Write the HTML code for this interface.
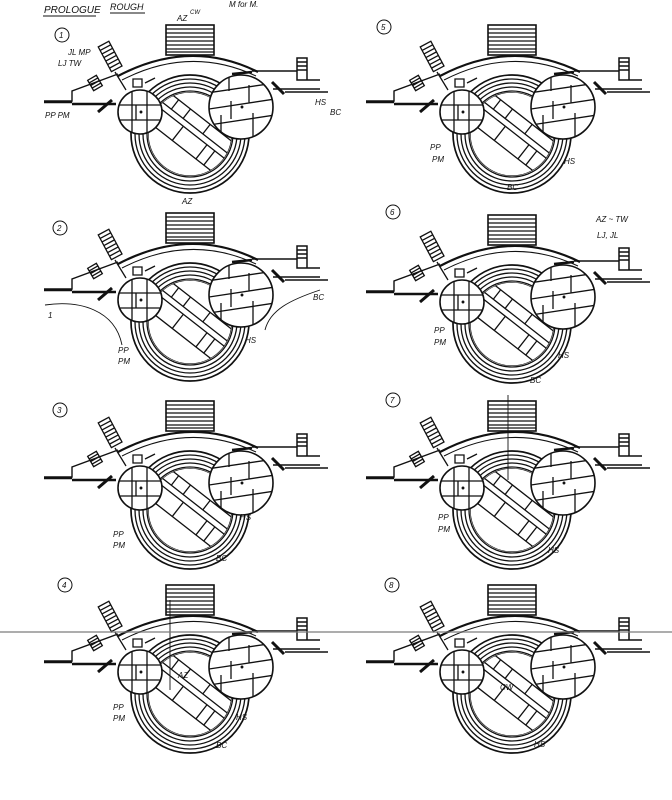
<!DOCTYPE html>
<html><head><style>
html,body{margin:0;padding:0;background:#fff;}
svg{display:block;}
text{font-family:"Liberation Sans",sans-serif;font-style:italic;fill:#111;}
</style></head><body>
<svg width="672" height="800" viewBox="0 0 672 800" xmlns="http://www.w3.org/2000/svg">
<defs>
<clipPath id="inner"><circle cx="190" cy="134" r="42"/></clipPath>
<clipPath id="lc"><circle cx="140" cy="112" r="22"/></clipPath>
<clipPath id="rc"><circle cx="241" cy="107" r="32"/></clipPath>
<g id="panel" stroke="#111" fill="none" stroke-width="1.3">
  <rect x="166" y="25" width="48" height="30" fill="#fff" stroke-width="1.6"/>
  <path d="M166,29H214M166,33H214M166,37H214M166,41H214M166,45H214M166,49H214M166,52H214"/>
  <path d="M118,76 Q190,38 258,72" stroke-width="2.2"/>
  <path d="M122,80 Q190,45 256,76" stroke-width="1"/>
  <g transform="rotate(-28 112 60)">
    <rect x="106" y="42" width="12" height="28" fill="#fff"/>
    <path d="M106,46H118M106,50H118M106,54H118M106,58H118M106,62H118M106,66H118"/>
  </g>
  <path d="M115,72 L126,90"/>
  <g transform="rotate(-30 95 83)">
    <rect x="90" y="77" width="10" height="12" fill="#fff"/>
    <path d="M90,80H100M90,83H100M90,86H100"/>
  </g>
  <path d="M44,101H72V91L118,74" stroke-width="1.4"/>
  <path d="M44,102H72M72,104H116" stroke-width="2.4"/>
  <path d="M98,112L112,100" stroke-width="3"/>
  <path d="M133,79h9v8h-9z M145,83 l10,-5" />
  <path d="M252,71H297M297,58h10v22h-10zM297,62h10M297,66h10M297,70h10M307,80h13M285,92H328M273,89H320" stroke-width="1.5"/>
  <path d="M272,82l12,12" stroke-width="3"/>
  <path d="M232,74l20,-2" stroke-width="2.5"/>
  <circle cx="190" cy="134" r="59" fill="#fff" stroke-width="1.7"/>
  <circle cx="190" cy="134" r="55"/>
  <circle cx="190" cy="134" r="51"/>
  <circle cx="190" cy="134" r="47"/>
  <circle cx="190" cy="134" r="43"/>
  <g clip-path="url(#inner)">
    <circle cx="190" cy="134" r="42" fill="#fff"/>
    <g transform="rotate(38 190 134)">
      <rect x="140" y="114" width="100" height="36"/>
      <path d="M140,126H240M140,132H240M160,114V126M180,132V150M200,114V126M220,132V150M175,114V126M210,132V150"/>
    </g>
  </g>
  <circle cx="140" cy="112" r="22" fill="#fff" stroke-width="1.6"/>
  <g clip-path="url(#lc)">
    <path d="M132,90V134M147,90V134M118,105H162M118,120H162M136,105v15"/>
  </g>
  <circle cx="141" cy="112" r="0.8" fill="#111"/>
  <circle cx="241" cy="107" r="32" fill="#fff" stroke-width="1.6"/>
  <g clip-path="url(#rc)">
    <path d="M207,93L275,83M209,109L275,99M209,125L275,115M229,75V91M249,85V103M231,101V119M253,113V139M221,115V133"/>
  </g>
  <circle cx="242" cy="107" r="0.8" fill="#111"/>
</g>
</defs>

<text x="44" y="13" font-size="10">PROLOGUE</text>
<path d="M43,16H96" stroke="#111"/>
<text x="110" y="10" font-size="9">ROUGH</text>
<path d="M110,13H145" stroke="#111"/>
<text x="177" y="21" font-size="8">AZ</text><text x="190" y="14" font-size="6">CW</text>
<text x="229" y="7" font-size="8">M for M.</text>

<use href="#panel" x="0" y="0"/>
<use href="#panel" x="322" y="0"/>
<use href="#panel" x="0" y="188"/>
<use href="#panel" x="322" y="190"/>
<use href="#panel" x="0" y="376"/>
<use href="#panel" x="322" y="376"/>
<use href="#panel" x="0" y="560"/>
<use href="#panel" x="322" y="560"/>

<g fill="none" stroke="#111">
<circle cx="62" cy="35" r="7"/><circle cx="384" cy="27" r="7"/>
<circle cx="60" cy="228" r="7"/><circle cx="393" cy="212" r="7"/>
<circle cx="60" cy="410" r="7"/><circle cx="393" cy="400" r="7"/>
<circle cx="65" cy="585" r="7"/><circle cx="392" cy="585" r="7"/>
</g>
<g font-size="8" font-style="normal">
<text x="59" y="38">1</text><text x="381" y="30">5</text>
<text x="57" y="231">2</text><text x="390" y="215">6</text>
<text x="57" y="413">3</text><text x="390" y="403">7</text>
<text x="62" y="588">4</text><text x="389" y="588">8</text>
</g>

<g font-size="8">
<text x="68" y="55">JL MP</text><text x="58" y="66">LJ TW</text>
<text x="45" y="118">PP PM</text>
<text x="315" y="105">HS</text><text x="330" y="115">BC</text>
<text x="182" y="204">AZ</text>
<text x="430" y="150">PP</text><text x="432" y="162">PM</text>
<text x="564" y="164">HS</text><text x="507" y="190">BC</text>
<text x="596" y="222">AZ ~ TW</text><text x="597" y="238">LJ, JL</text>
<text x="434" y="333">PP</text><text x="434" y="345">PM</text>
<text x="558" y="358">HS</text><text x="530" y="383">BC</text>
<text x="48" y="318">1</text><text x="118" y="353">PP</text><text x="118" y="364">PM</text>
<text x="313" y="300">BC</text><text x="245" y="343">HS</text>
<text x="113" y="537">PP</text><text x="113" y="548">PM</text>
<text x="240" y="520">HS</text><text x="216" y="561">BC</text>
<text x="438" y="520">PP</text><text x="438" y="532">PM</text>
<text x="548" y="553">HS</text>
<text x="113" y="710">PP</text><text x="113" y="721">PM</text>
<text x="236" y="720">HS</text><text x="216" y="748">BC</text>
<text x="178" y="678">AZ</text><text x="500" y="690">CW</text>
<text x="534" y="747">HS</text>
</g>
<g fill="none" stroke="#111" stroke-width="0.9">
<path d="M45,305 C80,300 115,310 122,345"/>
<path d="M320,290 C290,300 270,310 265,330"/>
<path d="M170,600 V690"/><path d="M508,395 V480"/>
</g>
<path d="M0,632 H672" stroke="#777" stroke-width="2" opacity="0.6"/>
</svg>
</body></html>
